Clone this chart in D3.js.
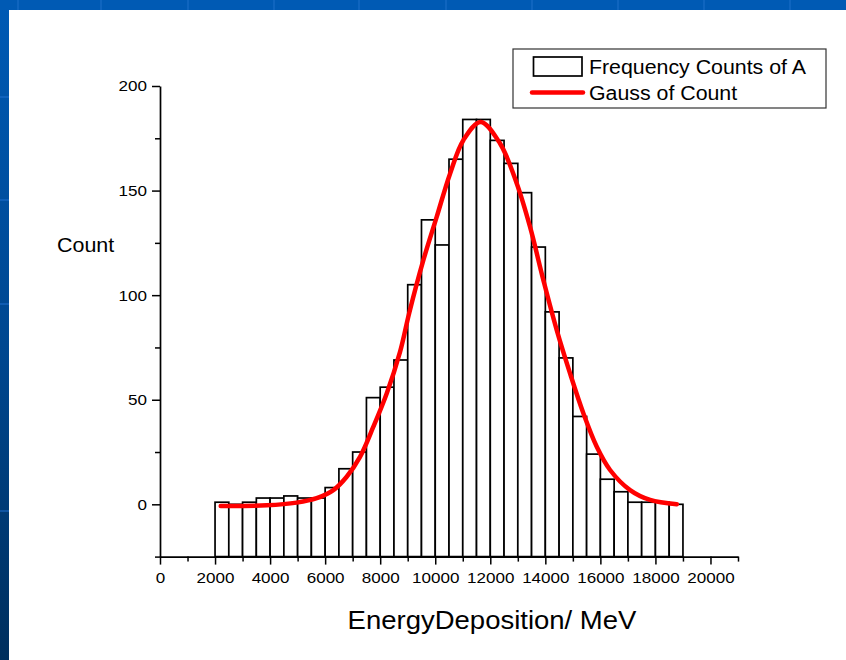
<!DOCTYPE html>
<html>
<head>
<meta charset="utf-8">
<script src="https://cdn.jsdelivr.net/npm/d3@7/dist/d3.min.js"></script>
<style>
  html, body { margin: 0; padding: 0; background: #fff; }
  svg { display: block; }
  text { font-family: "Liberation Sans", Arial, sans-serif; fill: #000; }
</style>
</head>
<body>
<script>
// Histogram bins (left edge, MeV) and their counts
const binStart = [2000, 2500, 3000, 3500, 4000, 4500, 5000, 5500, 6000, 6500,
                  7000, 7500, 8000, 8500, 9000, 9500, 10000, 10500, 11000, 11500,
                  12000, 12500, 13000, 13500, 14000, 14500, 15000, 15500, 16000, 16500,
                  17000, 17500, 18000, 18500];
const binWidth = 500;
const counts = [1, 0, 1, 3, 3, 4, 3, 3, 8, 17,
                25, 51, 56, 69, 105, 136, 124, 165, 184, 184,
                174, 163, 149, 123, 92, 70, 42, 24, 12, 6,
                1, 1, 1, 0];

// Fitted Gauss curve, sampled points (energy, count)
const gaussX = [2205, 3875, 4966, 5693, 6298, 6783, 7267, 7752, 8237, 8721,
                9055, 9568, 10053, 10538, 11022, 11650, 12355, 12962, 13445, 13929,
                14415, 14898, 15382, 15869, 16352, 17079, 17805, 18776];
const gaussY = [-0.8, -0.5, 0.8, 2.9, 6.8, 13.2, 22.7, 37.1, 53.0, 72.9,
                91.5, 116.7, 137.4, 158.1, 174.1, 182.8, 172.5, 153.4, 132.6, 107.2,
                83.3, 62.6, 43.5, 27.5, 16.4, 6.8, 2.1, 0];

// Axis ticks
const xMajor = [0, 2000, 4000, 6000, 8000, 10000, 12000, 14000, 16000, 18000, 20000];
const xMinor = [1000, 3000, 5000, 7000, 9000, 11000, 13000, 15000, 17000, 19000, 21000];
const yMajor = [0, 50, 100, 150, 200];
const yMinor = [-25, 25, 75, 125, 175];

const seriesNames = ["Frequency Counts of A", "Gauss of Count"];
const xTitle = "EnergyDeposition/ MeV";
const yTitle = "Count";

const W = 846, H = 660;
const SX = 1.1; // horizontal text stretch

const svg = d3.select("body").append("svg")
  .attr("width", W).attr("height", H);

// Blue slide frame
const defs = svg.append("defs");
const grad = defs.append("linearGradient").attr("id", "frameGrad")
  .attr("x1", 0).attr("y1", 0).attr("x2", 0).attr("y2", 1);
grad.append("stop").attr("offset", "0%").attr("stop-color", "#005ab5");
grad.append("stop").attr("offset", "55%").attr("stop-color", "#00468e");
grad.append("stop").attr("offset", "100%").attr("stop-color", "#002f5d");
svg.append("rect").attr("width", W).attr("height", H).attr("fill", "url(#frameGrad)");
svg.append("rect").attr("x", 0).attr("y", 0).attr("width", W).attr("height", 10).attr("fill", "#005ab4");
// faint texture lines on the frame
[17, 100, 187, 273, 358, 445, 531, 617, 703, 789].forEach(px => {
  svg.append("rect").attr("x", px).attr("y", 0).attr("width", 2).attr("height", 10)
    .attr("fill", "#2a7ad4").attr("opacity", 0.35);
});
[96, 199, 303, 510].forEach(py => {
  svg.append("rect").attr("x", 0).attr("y", py).attr("width", 9).attr("height", 2)
    .attr("fill", "#1f6fcf").attr("opacity", 0.5);
});
// White panel
svg.append("rect").attr("x", 9).attr("y", 10).attr("width", W - 9).attr("height", H - 10)
  .attr("fill", "#ffffff");

// Scales
const x = d3.scaleLinear().domain([0, 21000]).range([160, 738]);
const y = d3.scaleLinear().domain([-25, 200]).range([556.6, 86]);

// Bars
svg.append("g").selectAll("rect").data(binStart).join("rect")
  .attr("x", (d) => x(d))
  .attr("y", (d, i) => y(counts[i]))
  .attr("width", (d) => x(d + binWidth) - x(d))
  .attr("height", (d, i) => y(-25) - y(counts[i]))
  .attr("fill", "#fff")
  .attr("stroke", "#000")
  .attr("stroke-width", 1.7);

// Axes
function styleAxis(g) {
  g.select(".domain").attr("stroke", "#000").attr("stroke-width", 1.7);
  g.selectAll(".tick line").attr("stroke", "#000").attr("stroke-width", 1.5);
}
const xAxis = svg.append("g").attr("transform", `translate(0,${y(-25)})`)
  .call(d3.axisBottom(x).tickValues(xMajor).tickSize(8).tickSizeOuter(0).tickFormat(d3.format("d")))
  .call(styleAxis);
xAxis.selectAll(".tick text")
  .attr("y", 15).attr("font-size", 15.5)
  .attr("font-family", "Liberation Sans, Arial, sans-serif")
  .attr("transform", `scale(${SX},1)`)
  .attr("x", 0);
xAxis.selectAll(".tick").each(function(d) {
  d3.select(this).select("text").attr("x", 0);
});
svg.append("g").attr("transform", `translate(0,${y(-25)})`)
  .call(d3.axisBottom(x).tickValues(xMinor).tickSize(5).tickSizeOuter(0).tickFormat(""))
  .call(g => g.select(".domain").remove())
  .call(styleAxis);

const yAxis = svg.append("g").attr("transform", `translate(${x(0)},0)`)
  .call(d3.axisLeft(y).tickValues(yMajor).tickSize(8).tickSizeOuter(0))
  .call(styleAxis);
yAxis.selectAll(".tick text")
  .attr("font-size", 15.5)
  .attr("font-family", "Liberation Sans, Arial, sans-serif")
  .attr("x", -13 / SX)
  .attr("transform", `scale(${SX},1)`);
svg.append("g").attr("transform", `translate(${x(0)},0)`)
  .call(d3.axisLeft(y).tickValues(yMinor).tickSize(5).tickSizeOuter(0).tickFormat(""))
  .call(g => g.select(".domain").remove())
  .call(styleAxis);

// Gauss fit curve
const line = d3.line()
  .x((d, i) => x(gaussX[i]))
  .y((d, i) => y(gaussY[i]))
  .curve(d3.curveCatmullRom.alpha(0.5));
svg.append("path").datum(gaussX)
  .attr("d", line)
  .attr("fill", "none")
  .attr("stroke", "#ff0000")
  .attr("stroke-width", 4.5)
  .attr("stroke-linecap", "round")
  .attr("stroke-linejoin", "round");

// Text helper with horizontal stretch
function label(txt, px, py, size, anchor) {
  svg.append("text")
    .attr("transform", `translate(${px},${py}) scale(${SX},1)`)
    .attr("font-size", size)
    .attr("text-anchor", anchor || "start")
    .text(txt);
}

label(yTitle, 57, 252, 19.5, "start");
label(xTitle, 492, 629, 25, "middle");

// Legend
const lg = svg.append("g");
lg.append("rect").attr("x", 513).attr("y", 49).attr("width", 313).attr("height", 59)
  .attr("fill", "#fff").attr("stroke", "#333").attr("stroke-width", 1.2);
lg.append("rect").attr("x", 533.5).attr("y", 57).attr("width", 48.5).attr("height", 19)
  .attr("fill", "#fff").attr("stroke", "#000").attr("stroke-width", 1.7);
lg.append("line").attr("x1", 532).attr("x2", 583).attr("y1", 92.5).attr("y2", 92.5)
  .attr("stroke", "#ff0000").attr("stroke-width", 4.5).attr("stroke-linecap", "round");
label(seriesNames[0], 589, 73.5, 19.4, "start");
label(seriesNames[1], 589, 100, 19.4, "start");
</script>
</body>
</html>
